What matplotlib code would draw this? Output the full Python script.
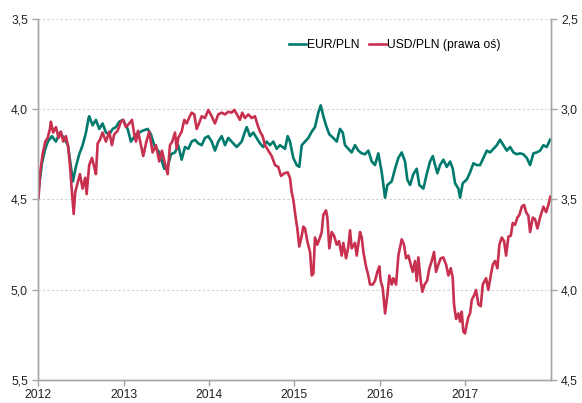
import matplotlib
matplotlib.use("Agg")
import matplotlib.pyplot as plt

plt.rcParams['font.family'] = ['Liberation Sans', 'DejaVu Sans']

# EUR/PLN (left axis), x in decimal years
eur_t = [2012.002, 2012.041, 2012.080, 2012.111, 2012.158, 2012.205, 2012.252, 2012.299,
         2012.346, 2012.375, 2012.404, 2012.422, 2012.439, 2012.478, 2012.518, 2012.557,
         2012.588, 2012.595, 2012.635, 2012.674, 2012.713, 2012.752, 2012.791, 2012.830,
         2012.870, 2012.908, 2012.947, 2012.990, 2013.045, 2013.084, 2013.143, 2013.181,
         2013.221, 2013.280, 2013.318, 2013.357, 2013.416, 2013.474, 2013.514, 2013.553,
         2013.600, 2013.638, 2013.678, 2013.717, 2013.756, 2013.795, 2013.834, 2013.873,
         2013.913, 2013.951, 2013.990, 2014.030, 2014.068, 2014.107, 2014.147, 2014.186,
         2014.224, 2014.264, 2014.323, 2014.381, 2014.420, 2014.440, 2014.479, 2014.517,
         2014.557, 2014.596, 2014.634, 2014.674, 2014.713, 2014.752, 2014.791, 2014.830,
         2014.889, 2014.920, 2014.947, 2014.986, 2015.026, 2015.056, 2015.085, 2015.123,
         2015.162, 2015.202, 2015.240, 2015.279, 2015.307, 2015.338, 2015.369, 2015.408,
         2015.455, 2015.495, 2015.533, 2015.565, 2015.592, 2015.631, 2015.670, 2015.709,
         2015.748, 2015.788, 2015.826, 2015.865, 2015.905, 2015.943, 2015.982, 2016.022,
         2016.061, 2016.088, 2016.139, 2016.178, 2016.217, 2016.256, 2016.295, 2016.322,
         2016.354, 2016.392, 2016.432, 2016.462, 2016.510, 2016.549, 2016.588, 2016.620,
         2016.647, 2016.674, 2016.705, 2016.744, 2016.784, 2016.823, 2016.854, 2016.881,
         2016.920, 2016.940, 2016.971, 2017.018, 2017.057, 2017.096, 2017.135, 2017.174,
         2017.213, 2017.253, 2017.291, 2017.330, 2017.370, 2017.408, 2017.447, 2017.487,
         2017.526, 2017.564, 2017.604, 2017.643, 2017.681, 2017.721, 2017.760, 2017.799,
         2017.838, 2017.877, 2017.916, 2017.955, 2017.994]
eur = [4.45, 4.30, 4.22, 4.18, 4.15, 4.18, 4.13, 4.16,
       4.20, 4.30, 4.40, 4.36, 4.32, 4.25, 4.20, 4.13,
       4.05, 4.04, 4.09, 4.06, 4.11, 4.08, 4.13, 4.14,
       4.11, 4.10, 4.07, 4.06, 4.11, 4.18, 4.14, 4.13,
       4.12, 4.11, 4.14, 4.20, 4.24, 4.33, 4.32, 4.25,
       4.24, 4.20, 4.28, 4.21, 4.22, 4.18, 4.17, 4.19,
       4.20, 4.16, 4.15, 4.18, 4.23, 4.18, 4.15, 4.20,
       4.16, 4.18, 4.21, 4.18, 4.125, 4.10, 4.15, 4.13,
       4.16, 4.19, 4.21, 4.18, 4.20, 4.18, 4.22, 4.20,
       4.22, 4.15, 4.18, 4.27, 4.31, 4.32, 4.20, 4.18,
       4.16, 4.125, 4.10, 4.02, 3.98, 4.04, 4.09, 4.14,
       4.16, 4.18, 4.11, 4.13, 4.20, 4.22, 4.24, 4.20,
       4.23, 4.245, 4.25, 4.23, 4.29, 4.31, 4.245, 4.35,
       4.49, 4.42, 4.40, 4.33, 4.27, 4.24, 4.29, 4.39,
       4.42, 4.36, 4.33, 4.42, 4.44, 4.36, 4.29, 4.26,
       4.31, 4.355, 4.31, 4.28, 4.32, 4.29, 4.33, 4.41,
       4.44, 4.49, 4.41, 4.39, 4.35, 4.30, 4.31, 4.31,
       4.27, 4.23, 4.24, 4.22, 4.20, 4.17, 4.20, 4.23,
       4.21, 4.24, 4.25, 4.245, 4.25, 4.27, 4.31, 4.245,
       4.24, 4.23, 4.20, 4.21, 4.17]

# USD/PLN (right axis)
usd_t = [2012.002, 2012.018, 2012.049, 2012.080, 2012.108, 2012.135, 2012.146, 2012.173,
         2012.205, 2012.237, 2012.264, 2012.291, 2012.322, 2012.349, 2012.373, 2012.393,
         2012.413, 2012.431, 2012.459, 2012.486, 2012.518, 2012.548, 2012.565, 2012.595,
         2012.627, 2012.654, 2012.674, 2012.694, 2012.721, 2012.752, 2012.791, 2012.830,
         2012.861, 2012.888, 2012.928, 2012.967, 2012.994, 2013.025, 2013.064, 2013.096,
         2013.123, 2013.143, 2013.166, 2013.201, 2013.228, 2013.260, 2013.298, 2013.338,
         2013.377, 2013.416, 2013.447, 2013.482, 2013.514, 2013.541, 2013.568, 2013.600,
         2013.620, 2013.638, 2013.678, 2013.709, 2013.737, 2013.764, 2013.795, 2013.826,
         2013.854, 2013.881, 2013.913, 2013.951, 2013.990, 2014.030, 2014.068, 2014.107,
         2014.147, 2014.186, 2014.224, 2014.264, 2014.295, 2014.326, 2014.361, 2014.388,
         2014.420, 2014.459, 2014.499, 2014.537, 2014.569, 2014.596, 2014.627, 2014.654,
         2014.693, 2014.733, 2014.772, 2014.810, 2014.842, 2014.881, 2014.920, 2014.947,
         2014.967, 2014.986, 2015.014, 2015.033, 2015.056, 2015.085, 2015.103, 2015.123,
         2015.150, 2015.182, 2015.202, 2015.221, 2015.240, 2015.267, 2015.299, 2015.319,
         2015.338, 2015.369, 2015.385, 2015.408, 2015.436, 2015.463, 2015.495, 2015.522,
         2015.553, 2015.572, 2015.604, 2015.631, 2015.651, 2015.670, 2015.709, 2015.729,
         2015.768, 2015.788, 2015.807, 2015.838, 2015.865, 2015.885, 2015.917, 2015.943,
         2015.971, 2015.994, 2016.010, 2016.034, 2016.061, 2016.088, 2016.111, 2016.139,
         2016.158, 2016.190, 2016.217, 2016.256, 2016.283, 2016.307, 2016.334, 2016.362,
         2016.385, 2016.412, 2016.432, 2016.451, 2016.479, 2016.498, 2016.524, 2016.553,
         2016.580, 2016.608, 2016.635, 2016.658, 2016.685, 2016.713, 2016.744, 2016.776,
         2016.803, 2016.831, 2016.854, 2016.869, 2016.893, 2016.920, 2016.940, 2016.959,
         2016.978, 2016.998, 2017.018, 2017.037, 2017.057, 2017.077, 2017.104, 2017.127,
         2017.154, 2017.182, 2017.206, 2017.227, 2017.244, 2017.271, 2017.299, 2017.323,
         2017.350, 2017.377, 2017.400, 2017.428, 2017.455, 2017.479, 2017.506, 2017.534,
         2017.557, 2017.584, 2017.611, 2017.635, 2017.663, 2017.690, 2017.713, 2017.740,
         2017.760, 2017.792, 2017.819, 2017.846, 2017.877, 2017.916, 2017.948, 2017.974,
         2017.997]
usd = [3.49, 3.36, 3.25, 3.18, 3.16, 3.11, 3.07, 3.13,
       3.10, 3.16, 3.125, 3.18, 3.15, 3.21, 3.33, 3.46,
       3.58, 3.46, 3.41, 3.36, 3.44, 3.38, 3.47, 3.31,
       3.27, 3.32, 3.36, 3.19, 3.17, 3.13, 3.18, 3.125,
       3.20, 3.14, 3.12, 3.07, 3.06, 3.10, 3.08, 3.06,
       3.14, 3.18, 3.12, 3.20, 3.26, 3.19, 3.125, 3.24,
       3.20, 3.29, 3.23, 3.30, 3.36, 3.20, 3.18, 3.13,
       3.22, 3.16, 3.125, 3.06, 3.08, 3.05, 3.02, 3.03,
       3.11, 3.08, 3.04, 3.05, 3.005, 3.04, 3.08, 3.03,
       3.02, 3.03, 3.015, 3.02, 3.005, 3.03, 3.06, 3.02,
       3.05, 3.03, 3.05, 3.04, 3.09, 3.125, 3.15, 3.20,
       3.23, 3.26, 3.31, 3.32, 3.37, 3.355, 3.35, 3.38,
       3.46, 3.50, 3.60, 3.66, 3.76, 3.70, 3.65, 3.66,
       3.73, 3.79, 3.92, 3.91, 3.71, 3.75, 3.71, 3.68,
       3.585, 3.56, 3.60, 3.77, 3.68, 3.70, 3.75, 3.73,
       3.81, 3.74, 3.825, 3.76, 3.67, 3.77, 3.74, 3.81,
       3.68, 3.71, 3.79, 3.87, 3.92, 3.97, 3.97, 3.95,
       3.90, 3.87, 3.95, 3.99, 4.13, 4.03, 3.92, 3.97,
       3.935, 3.97, 3.81, 3.72, 3.75, 3.825, 3.81, 3.86,
       3.90, 3.84, 3.95, 3.82, 3.95, 4.01, 3.97, 3.95,
       3.88, 3.84, 3.79, 3.90, 3.86, 3.825, 3.82, 3.86,
       3.92, 3.88, 3.935, 4.08, 4.16, 4.13, 4.175, 4.12,
       4.23, 4.24, 4.19, 4.15, 4.13, 4.055, 4.03, 4.00,
       4.08, 4.09, 3.97, 3.95, 3.935, 4.00, 3.92, 3.86,
       3.84, 3.88, 3.75, 3.71, 3.73, 3.81, 3.705, 3.70,
       3.63, 3.64, 3.60, 3.585, 3.54, 3.53, 3.57, 3.59,
       3.68, 3.60, 3.61, 3.66, 3.60, 3.54, 3.57, 3.53,
       3.485]

years = [2012, 2013, 2014, 2015, 2016, 2017]
left_ticks = [3.5, 4.0, 4.5, 5.0, 5.5]
right_ticks = [2.5, 3.0, 3.5, 4.0, 4.5]

teal = '#007A6C'
red = '#C8304F'
gray = '#A6A6A6'

fig = plt.figure(figsize=(5.82, 4.03), dpi=100)
ax = fig.add_axes([0.066, 0.056, 0.880, 0.898])
ax2 = ax.twinx()

l1, = ax.plot(eur_t, eur, color=teal, lw=1.9, label='EUR/PLN')
l2, = ax2.plot(usd_t, usd, color=red, lw=1.9, label='USD/PLN (prawa oś)')

ax.set_xlim(2012, 2018)
ax.set_ylim(5.5, 3.5)
ax2.set_ylim(4.5, 2.5)

ax.set_xticks(years)
ax.set_xticklabels([str(y) for y in years])
ax.set_yticks(left_ticks)
ax.set_yticklabels([f'{v:.1f}'.replace('.', ',') for v in left_ticks])
ax2.set_yticks(right_ticks)
ax2.set_yticklabels([f'{v:.1f}'.replace('.', ',') for v in right_ticks])

ax.grid(axis='y', color='#D0D0D0', linestyle=(0, (2, 2)), lw=0.8)
ax.set_axisbelow(True)

for a in (ax, ax2):
    a.spines['top'].set_visible(False)
    for s in ('left', 'right', 'bottom'):
        a.spines[s].set_color(gray)
        a.spines[s].set_linewidth(1.0)
    a.tick_params(colors=gray, labelcolor='#222222', labelsize=8.7, length=4, width=1.0)
ax.tick_params(axis='x', pad=2)

leg = ax2.legend(handles=[l1, l2], loc='center left', bbox_to_anchor=(0.48, 0.927),
                 ncol=2, frameon=False, fontsize=8.7, handlelength=1.4,
                 handletextpad=0.1, columnspacing=0.8, borderaxespad=0)

fig.savefig('out.png', dpi=100)
